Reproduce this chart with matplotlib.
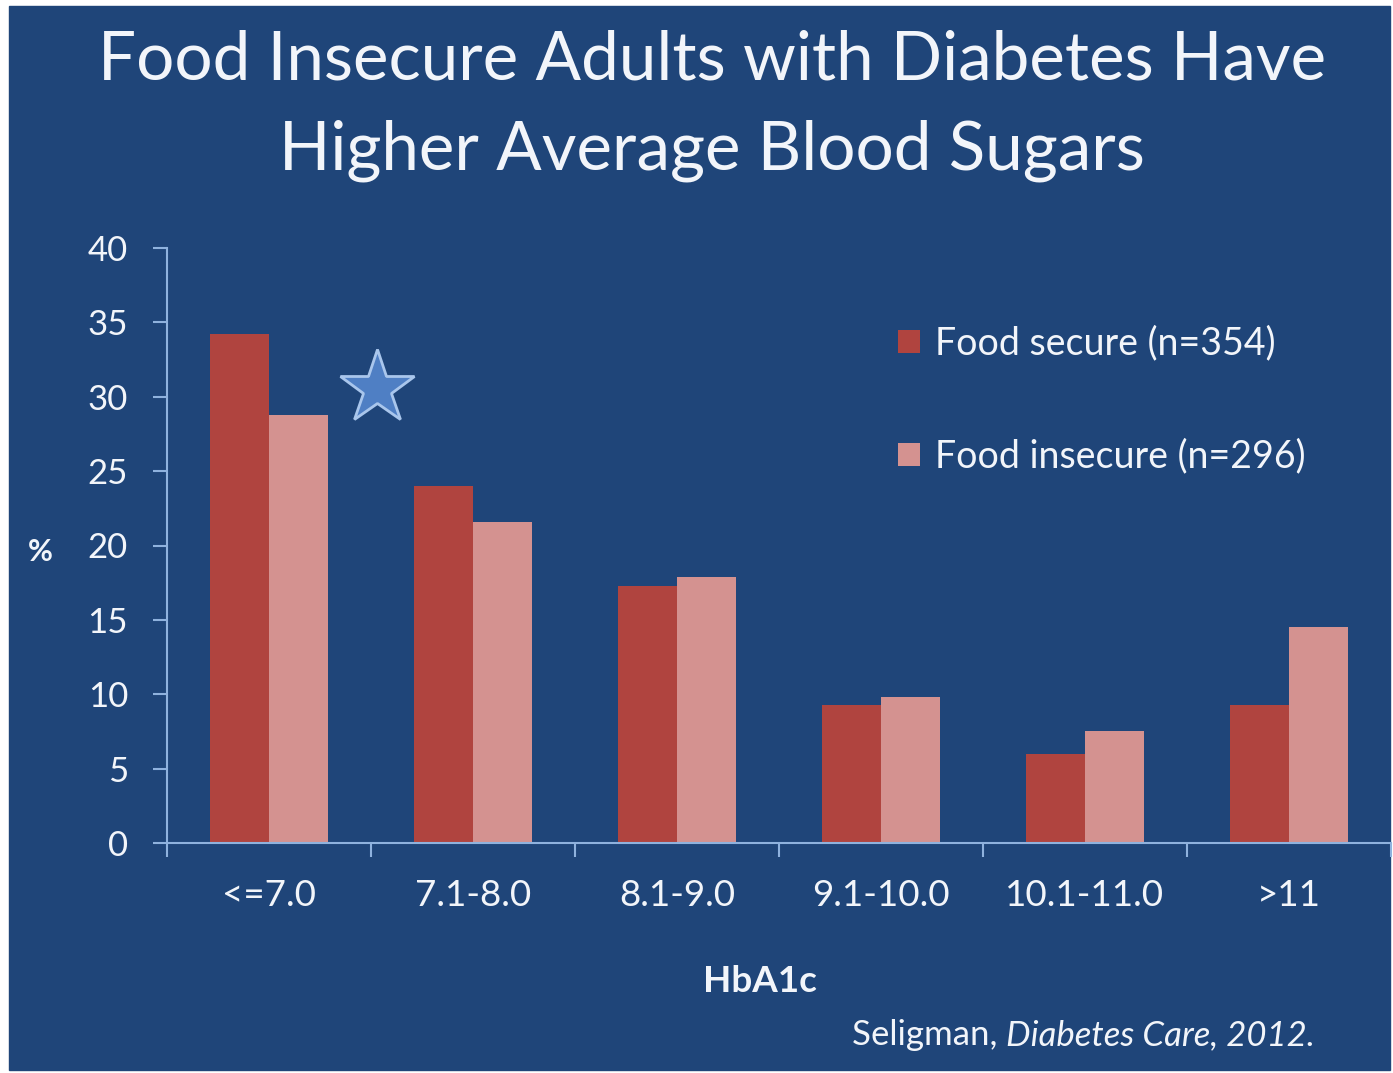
"""Share of adults with diabetes by HbA1c band, food secure vs insecure"""

import matplotlib.pyplot as plt
from matplotlib.patches import Rectangle
import numpy as np

categories = ["<=7.0", "7.1-8.0", "8.1-9.0", "9.1-10.0", "10.1-11.0", ">11"]
food_secure = [34.2, 24.0, 17.3, 9.3, 6.0, 9.3]
food_insecure = [28.8, 21.6, 17.9, 9.8, 7.5, 14.5]
y_ticks = [0, 5, 10, 15, 20, 25, 30, 35, 40]

bg = "#1f4579"
dark_red = "#b0443f"
light_red = "#d49290"
axis_col = "#8fb2de"
txt = "#f2f5fa"

plt.rcParams["font.family"] = ["Lato", "DejaVu Sans"]

fig = plt.figure(figsize=(13.93, 10.73), dpi=100, facecolor="white")
fig.patches.append(Rectangle((9 / 1393, 3 / 1073), 1381 / 1393, 1064 / 1073,
                             transform=fig.transFigure, color=bg, zorder=-1))

ax = fig.add_axes([167 / 1393, 1 - 843 / 1073, 1224 / 1393, 595 / 1073])
ax.set_facecolor("none")

x = np.arange(len(categories))
w = 0.29
ax.bar(x - w / 2, food_secure, w, color=dark_red, label="Food secure (n=354)")
ax.bar(x + w / 2, food_insecure, w, color=light_red, label="Food insecure (n=296)")

# star marking the significant difference
ax.plot(0.53, 30.6, marker="*", markersize=56, color="#4f7fc4",
        markeredgecolor="#a9c6ec", markeredgewidth=2, clip_on=False)

ax.set_xlim(-0.5, 5.5)
ax.set_ylim(0, 40)
ax.set_yticks(y_ticks)
ax.set_xticks(np.arange(-0.5, 6, 1))
ax.set_xticklabels([])
ax.set_xticks(x, minor=True)
ax.set_xticklabels(categories, minor=True)

for s in ["top", "right"]:
    ax.spines[s].set_visible(False)
for s in ["left", "bottom"]:
    ax.spines[s].set_color(axis_col)
    ax.spines[s].set_linewidth(1.5)

ax.tick_params(axis="y", colors=axis_col, labelcolor=txt, labelsize=25,
               length=10, width=1.5, pad=18)
ax.tick_params(axis="x", which="major", colors=axis_col, length=10, width=1.5)
ax.tick_params(axis="x", which="minor", length=0, labelcolor=txt,
               labelsize=26.5, pad=26)

fig.text(40 / 1393, 1 - 552 / 1073, "%", color=txt, fontsize=22,
         fontweight="bold", ha="center", va="center")
fig.text(760 / 1393, 1 - 982 / 1073, "HbA1c", color=txt, fontsize=26.5,
         fontweight="bold", ha="center", va="center")

fig.text(712 / 1393, 1 - 106 / 1073,
         "Food Insecure Adults with Diabetes Have\nHigher Average Blood Sugars",
         color=txt, fontsize=48.5, ha="center", va="center", linespacing=1.55)

cite = fig.text(852 / 1393, 1 - 1035 / 1073, "Seligman, ", color=txt,
                fontsize=25, ha="left", va="center")
fig.canvas.draw()
bb = cite.get_window_extent()
fig.text(bb.x1 / 1393, 1 - 1035 / 1073, "Diabetes Care, 2012.",
         color=txt, fontsize=25, ha="left", va="center", style="italic")

leg = ax.legend(loc="upper left", bbox_to_anchor=(879 / 1393, 1 - 307 / 1073),
                bbox_transform=fig.transFigure, frameon=False, fontsize=27,
                handlelength=0.6, handleheight=0.6, handletextpad=0.4,
                labelspacing=2.05, borderpad=0)
for t in leg.get_texts():
    t.set_color(txt)

fig.savefig("out.png", dpi=100, facecolor="white")
